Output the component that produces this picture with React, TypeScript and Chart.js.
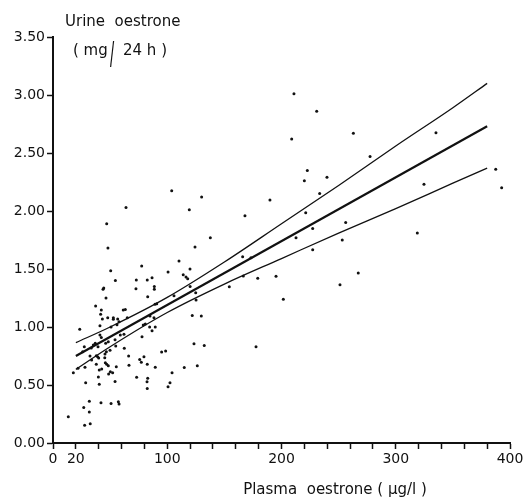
import React, { useEffect, useRef } from "react";
import { Chart, registerables } from "chart.js";

Chart.register(...registerables);

// Plasma oestrone (µg/l) of each subject
const plasmaX: number[] = [
  210.9, 230.8, 262.9, 208.9, 335.2, 277.5, 222.6, 220, 239.8, 324.7,
  387.5, 392.7, 233.4, 189.9, 130.1, 103.9, 119.3, 168, 63.9, 221.2,
  256.2, 47, 227.3, 318.9, 137.7, 212.7, 253.2, 124.3, 48.1, 227.3,
  166, 173.3, 110.3, 77.6, 119.9, 50.5, 100.7, 267.2, 114, 116.4,
  117.9, 166.6, 179.2, 195.2, 86.7, 72.9, 82.5, 54.6, 251.2, 120,
  154.3, 72.6, 88.7, 88.7, 43.8, 44.4, 124.9, 105.9, 82.9, 46.4,
  201.6, 125.2, 90.8, 37.3, 61.5, 63.3, 42.3, 41.7, 121.9, 129.8,
  84.9, 88.4, 47.9, 52.8, 52.8, 43.2, 56.6, 65, 80.8, 79,
  57.8, 56, 41.1, 89.5, 84.6, 50.8, 23.4, 86.7, 62.1, 58.9,
  41.1, 42.3, 77.9, 54.3, 48.4, 37, 46.1, 123.4, 132.4, 54.9,
  27.4, 39.4, 177.7, 33.5, 62.4, 98.6, 95.1, 26, 46.7, 45.5,
  32.4, 37.9, 39.1, 66.2, 79.6, 40, 75.9, 33.8, 77.3, 82.5,
  66.5, 126.3, 48.4, 55.4, 28, 89.5, 114.9, 21.9, 42.6, 40.5,
  50.2, 17.8, 52.2, 104.2, 48.7, 39.7, 73.2, 82.9, 54.3, 82.3,
  28.6, 102.4, 40.5, 100.7, 82.5, 42, 50.8, 57.2, 57.8, 31.8,
  26.9, 31.8, 13.4, 27.7, 32.6, 35.3, 49.9, 45.3, 37.9, 45.8,
  47, 89.3,
];

// Urine oestrone (mg/24 h) of each subject
const urineY: number[] = [
  3.01, 2.86, 2.67, 2.62, 2.675, 2.47, 2.35, 2.26, 2.29, 2.23,
  2.36, 2.2, 2.15, 2.095, 2.12, 2.175, 2.01, 1.96, 2.03, 1.985,
  1.9, 1.89, 1.85, 1.81, 1.77, 1.77, 1.75, 1.69, 1.68, 1.665,
  1.606, 1.597, 1.57, 1.525, 1.5, 1.485, 1.474, 1.466, 1.45, 1.43,
  1.415, 1.44, 1.42, 1.437, 1.425, 1.405, 1.405, 1.4, 1.365, 1.35,
  1.348, 1.33, 1.35, 1.325, 1.325, 1.336, 1.296, 1.27, 1.26, 1.25,
  1.24, 1.233, 1.2, 1.18, 1.147, 1.15, 1.147, 1.11, 1.1, 1.095,
  1.095, 1.08, 1.08, 1.08, 1.066, 1.07, 1.07, 1.08, 1.026, 1.017,
  1.046, 1.02, 1.01, 1.0, 1.0, 1.0, 0.98, 0.968, 0.937, 0.93,
  0.93, 0.91, 0.916, 0.89, 0.873, 0.86, 0.86, 0.855, 0.84, 0.836,
  0.83, 0.83, 0.83, 0.82, 0.816, 0.793, 0.784, 0.787, 0.787, 0.767,
  0.75, 0.753, 0.744, 0.75, 0.744, 0.733, 0.72, 0.716, 0.696, 0.678,
  0.67, 0.666, 0.666, 0.658, 0.652, 0.652, 0.65, 0.644, 0.638, 0.63,
  0.615, 0.606, 0.606, 0.606, 0.595, 0.57, 0.566, 0.558, 0.53, 0.528,
  0.52, 0.52, 0.506, 0.485, 0.47, 0.347, 0.34, 0.356, 0.336, 0.36,
  0.307, 0.267, 0.227, 0.152, 0.166, 0.845, 0.8, 0.735, 0.678, 0.692,
  0.678, 1.196,
];

// Regression line and its confidence limits
const lineX: number[] = [20, 380];
const lineY: number[] = [0.75, 2.73];
const bandX: number[] = [20, 50, 100, 150, 200, 250, 300, 350, 380];
const upperY: number[] = [0.865, 1.0, 1.255, 1.56, 1.89, 2.22, 2.56, 2.89, 3.1];
const lowerY: number[] = [0.635, 0.83, 1.125, 1.37, 1.59, 1.81, 2.02, 2.24, 2.37];

const xLabelled: number[] = [0, 20, 100, 200, 300, 400];

const FONT = '"DejaVu Sans", sans-serif';

const titlePlugin = {
  id: "titles",
  afterDraw(chart: any) {
    const ctx = chart.ctx as CanvasRenderingContext2D;
    ctx.save();
    ctx.fillStyle = "#111";
    ctx.textBaseline = "alphabetic";
    ctx.textAlign = "left";
    ctx.font = `15px ${FONT}`;
    ctx.fillText("Urine  oestrone", 65, 26);
    ctx.fillText("( mg", 73, 55);
    ctx.fillText("24 h )", 123, 55);
    ctx.save();
    ctx.translate(110, 67);
    ctx.scale(1.0, 2.3);
    ctx.font = `15px "Liberation Sans", sans-serif`;
    ctx.fillText("/", 0, 0);
    ctx.restore();
    ctx.font = `15px ${FONT}`;
    ctx.textAlign = "center";
    ctx.fillText("Plasma  oestrone ( µg/l )", 335, 494);
    ctx.restore();
  },
};

export default function App() {
  const ref = useRef<HTMLCanvasElement | null>(null);

  useEffect(() => {
    if (!ref.current) return;
    const pts = plasmaX.map((x, i) => ({ x, y: urineY[i] }));
    const mid = lineX.map((x, i) => ({ x, y: lineY[i] }));
    const up = bandX.map((x, i) => ({ x, y: upperY[i] }));
    const lo = bandX.map((x, i) => ({ x, y: lowerY[i] }));
    const lineDs = (data: any[], w: number) => ({
      data,
      showLine: true,
      borderColor: "#111",
      borderWidth: w,
      pointRadius: 0,
      fill: false,
      cubicInterpolationMode: "monotone" as const,
    });
    const chart = new Chart(ref.current, {
      type: "scatter",
      data: {
        datasets: [
          {
            data: pts,
            pointRadius: 1.5,
            pointBackgroundColor: "#111",
            pointBorderWidth: 0,
            showLine: false,
          },
          lineDs(mid, 2.2),
          lineDs(up, 1.3),
          lineDs(lo, 1.3),
        ],
      },
      options: {
        animation: false,
        responsive: false,
        maintainAspectRatio: false,
        layout: { padding: { left: 0, right: 19, top: 37, bottom: 0 } },
        plugins: { legend: { display: false }, tooltip: { enabled: false }, title: { display: false } },
        scales: {
          x: {
            type: "linear",
            min: 0,
            max: 400,
            afterFit: (s: any) => { s.height = 58; },
            border: { display: true, color: "#111", width: 2 },
            grid: { drawOnChartArea: false, drawTicks: true, tickLength: 6, color: "#111", tickWidth: 1.5 },
            ticks: {
              stepSize: 20,
              autoSkip: false,
              maxRotation: 0,
              padding: 2,
              color: "#111",
              font: { family: FONT, size: 14 },
              callback: (v: any) => (xLabelled.includes(Number(v)) ? String(v) : ""),
            },
          },
          y: {
            type: "linear",
            min: 0,
            max: 3.5,
            afterFit: (s: any) => { s.width = 53; },
            border: { display: true, color: "#111", width: 2 },
            grid: { drawOnChartArea: false, drawTicks: true, tickLength: 6, color: "#111", tickWidth: 1.5 },
            ticks: {
              stepSize: 0.5,
              padding: 2,
              color: "#111",
              font: { family: FONT, size: 14 },
              callback: (v: any) => Number(v).toFixed(2),
            },
          },
        },
      },
      plugins: [titlePlugin],
    });
    return () => chart.destroy();
  }, []);

  return (
    <div style={{ position: "absolute", left: 0, top: 0, width: 529, height: 501, background: "#fff" }}>
      <canvas ref={ref} width={529} height={501} style={{ width: 529, height: 501 }} />
    </div>
  );
}
